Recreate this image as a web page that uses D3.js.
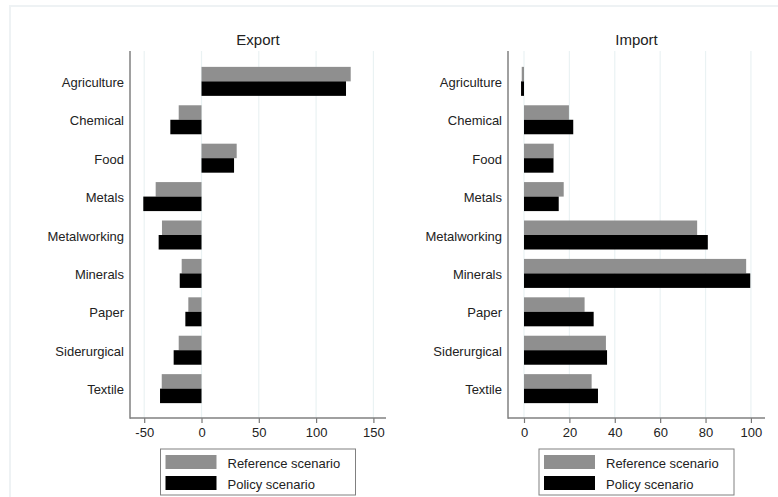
<!DOCTYPE html>
<html>
<head>
<meta charset="utf-8">
<script src="https://cdn.jsdelivr.net/npm/d3@7"></script>
<style>
  html, body { margin: 0; padding: 0; background: #fff; }
  svg { display: block; font-family: "Liberation Sans", Arial, sans-serif; }
</style>
</head>
<body>
<svg id="chart" width="778" height="497"></svg>
<script>
// Sectors shown on both panels
const sectors = ["Agriculture", "Chemical", "Food", "Metals", "Metalworking",
                 "Minerals", "Paper", "Siderurgical", "Textile"];

// Export change by sector
const exportReference = [130.2, -19.9, 30.7, -40.0, -34.5, -17.3, -11.5, -19.9, -34.7];
const exportPolicy    = [126.1, -27.2, 28.4, -50.8, -37.4, -19.0, -14.1, -24.3, -36.2];

// Import change by sector
const importReference = [-1.0, 19.8, 13.1, 17.5, 76.3, 97.9, 26.7, 36.1, 29.8];
const importPolicy    = [-1.3, 21.7, 13.0, 15.3, 81.0, 99.7, 30.7, 36.6, 32.6];

// Axis ticks
const exportTicks = [-50, 0, 50, 100, 150];
const importTicks = [0, 20, 40, 60, 80, 100];

const seriesNames = ["Reference scenario", "Policy scenario"];
const seriesColors = ["#8f8f8f", "#000000"];

const svg = d3.select("#chart");

// light outer frame
svg.append("path")
  .attr("d", "M10,497 V6 H778")
  .attr("fill", "none")
  .attr("stroke", "#eef2f4")
  .attr("stroke-width", 2);

const panels = [
  { title: "Export", ref: exportReference, pol: exportPolicy, ticks: exportTicks,
    domain: [-62.4, 161.0], left: 130, right: 386 },
  { title: "Import", ref: importReference, pol: importPolicy, ticks: importTicks,
    domain: [-7.05, 106.2], left: 508, right: 765 }
];

const plotTop = 51, plotBottom = 418;

panels.forEach(p => {
  const g = svg.append("g");
  const x = d3.scaleLinear().domain(p.domain).range([p.left, p.right]);
  const y = d3.scaleBand().domain(sectors).range([plotTop + 0.5, plotBottom + 0.5])
    .paddingInner(0.245).paddingOuter(0.4);
  const sub = d3.scaleBand().domain(seriesNames).range([0, y.bandwidth()]);

  // gridlines
  g.selectAll("line.grid").data(p.ticks).join("line")
    .attr("class", "grid")
    .attr("x1", d => x(d)).attr("x2", d => x(d))
    .attr("y1", plotTop).attr("y2", plotBottom)
    .attr("stroke", "#eaf2f3").attr("stroke-width", 1.2);

  // bars
  const rows = sectors.map((s, i) => [
    { sector: s, series: seriesNames[0], value: p.ref[i], color: seriesColors[0] },
    { sector: s, series: seriesNames[1], value: p.pol[i], color: seriesColors[1] }
  ]).flat();

  g.selectAll("rect.bar").data(rows).join("rect")
    .attr("class", "bar")
    .attr("x", d => Math.min(x(0), x(d.value)))
    .attr("width", d => Math.abs(x(d.value) - x(0)))
    .attr("y", d => y(d.sector) + sub(d.series))
    .attr("height", sub.bandwidth())
    .attr("fill", d => d.color);

  // x axis
  const xAxis = d3.axisBottom(x).tickValues(p.ticks).tickSize(5).tickPadding(5)
    .tickFormat(d3.format("d"));
  const ax = g.append("g").attr("transform", `translate(0,${plotBottom})`).call(xAxis);
  ax.select(".domain").remove();
  ax.selectAll(".tick line").attr("stroke", "#777").attr("stroke-width", 1.2);
  ax.selectAll(".tick text").attr("fill", "#222").attr("font-size", 13)
    .attr("font-family", "'Liberation Sans', Arial, sans-serif")
    .text(d => d < 0 ? "-" + Math.abs(d) : d);
  g.append("line")
    .attr("x1", p.left).attr("x2", p.right)
    .attr("y1", plotBottom).attr("y2", plotBottom)
    .attr("stroke", "#808080").attr("stroke-width", 1.5);

  // y axis
  g.append("line")
    .attr("x1", p.left).attr("x2", p.left)
    .attr("y1", plotTop).attr("y2", plotBottom + 0.75)
    .attr("stroke", "#808080").attr("stroke-width", 1.5);
  g.selectAll("text.cat").data(sectors).join("text")
    .attr("class", "cat")
    .attr("x", p.left - 6)
    .attr("y", d => y(d) + y.bandwidth() / 2 + 1)
    .attr("dy", "0.35em")
    .attr("text-anchor", "end")
    .attr("font-size", 13)
    .attr("fill", "#222")
    .text(d => d);

  // title
  g.append("text")
    .attr("x", (p.left + p.right) / 2)
    .attr("y", 45)
    .attr("text-anchor", "middle")
    .attr("font-size", 15)
    .attr("fill", "#222")
    .text(p.title);

  // legend
  const cx = (p.left + p.right) / 2;
  const lw = 195, lx = cx - lw / 2;
  const lg = g.append("g").attr("transform", `translate(${lx},449)`);
  lg.append("rect")
    .attr("x", 0).attr("y", 0).attr("width", lw).attr("height", 46)
    .attr("fill", "#fff").attr("stroke", "#808080").attr("stroke-width", 1);
  seriesNames.forEach((name, i) => {
    lg.append("rect")
      .attr("x", 5).attr("y", 6 + i * 21).attr("width", 51).attr("height", 14)
      .attr("fill", seriesColors[i]);
    lg.append("text")
      .attr("x", 67).attr("y", 18.5 + i * 21)
      .attr("font-size", 13).attr("fill", "#222")
      .text(name);
  });
});
</script>
</body>
</html>
